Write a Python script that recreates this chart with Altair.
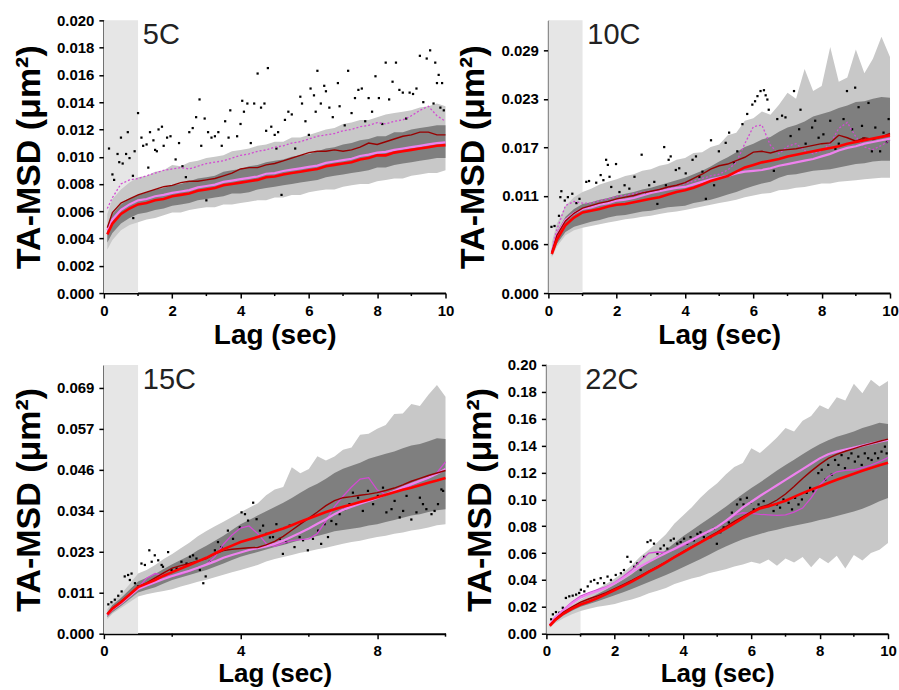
import altair as alt
import pandas as pd

# ---------------- shared lag grid (sec) ----------------
LAG = [0.1, 0.25, 0.5, 0.75, 1.0, 1.25, 1.5, 1.75, 2.0, 2.25, 2.5, 2.75, 3.0, 3.25, 3.5, 3.75,
       4.0, 4.25, 4.5, 4.75, 5.0, 5.25, 5.5, 5.75, 6.0, 6.25, 6.5, 6.75, 7.0, 7.25, 7.5, 7.75,
       8.0, 8.25, 8.5, 8.75, 9.0, 9.25, 9.5, 9.75, 10.0]

# all series values below are in units of 1e-3 um^2
# ---------------- 5C ----------------
light_hi_5C = [5.8, 6.9, 7.6, 8.1, 8.5, 8.6, 8.9, 9.0, 9.4, 9.3, 9.6, 9.7, 9.9, 10.0, 10.1, 10.4, 10.5, 10.6, 10.8, 10.9, 11.1, 11.1, 11.4, 11.4, 11.6, 11.8, 12.0, 12.1, 12.4, 12.5, 12.7, 12.7, 12.9, 13.1, 13.2, 13.3, 13.4, 13.6, 13.7, 13.9, 13.7]
light_lo_5C = [3.2, 3.9, 4.6, 5.0, 5.2, 5.4, 5.5, 5.7, 5.9, 5.9, 6.1, 6.2, 6.3, 6.3, 6.5, 6.5, 6.6, 6.7, 6.8, 6.8, 7.0, 7.0, 7.2, 7.2, 7.4, 7.5, 7.6, 7.6, 7.8, 7.9, 8.0, 8.0, 8.2, 8.3, 8.4, 8.4, 8.6, 8.7, 8.8, 8.8, 9.0]
dark_hi_5C = [4.9, 5.8, 6.5, 6.9, 7.2, 7.4, 7.6, 7.7, 7.9, 8.0, 8.2, 8.4, 8.5, 8.6, 8.9, 9.0, 9.1, 9.3, 9.4, 9.6, 9.7, 9.8, 10.0, 10.1, 10.2, 10.4, 10.6, 10.7, 10.9, 11.0, 11.2, 11.3, 11.5, 11.5, 11.8, 11.8, 12.0, 12.1, 12.2, 12.3, 12.3]
dark_lo_5C = [3.7, 4.4, 5.1, 5.5, 5.8, 5.9, 6.1, 6.2, 6.4, 6.5, 6.6, 6.8, 6.9, 7.0, 7.1, 7.3, 7.3, 7.4, 7.6, 7.7, 7.8, 7.9, 8.0, 8.1, 8.2, 8.3, 8.5, 8.6, 8.7, 8.8, 8.9, 9.0, 9.2, 9.2, 9.4, 9.5, 9.6, 9.7, 9.8, 9.9, 9.9]
red_5C = [4.3, 5.1, 5.8, 6.2, 6.5, 6.6, 6.8, 6.9, 7.1, 7.2, 7.3, 7.5, 7.6, 7.7, 7.9, 8.0, 8.1, 8.2, 8.3, 8.5, 8.55, 8.7, 8.8, 8.9, 9.0, 9.1, 9.3, 9.4, 9.5, 9.6, 9.8, 9.9, 10.1, 10.1, 10.3, 10.4, 10.5, 10.6, 10.7, 10.8, 10.85]
violet_5C = [4.6, 5.4, 6.1, 6.5, 6.8, 6.9, 7.1, 7.2, 7.35, 7.45, 7.55, 7.75, 7.85, 7.95, 8.15, 8.25, 8.35, 8.45, 8.55, 8.75, 8.8, 8.95, 9.05, 9.15, 9.25, 9.35, 9.55, 9.65, 9.75, 9.85, 10.05, 10.15, 10.3, 10.35, 10.5, 10.6, 10.7, 10.8, 10.9, 11.0, 11.05]
darkred_5C = [4.8, 5.9, 6.6, 6.9, 7.2, 7.4, 7.6, 7.8, 7.9, 8.1, 8.2, 8.2, 8.3, 8.4, 8.6, 8.8, 9.1, 9.2, 9.2, 9.4, 9.5, 9.7, 9.9, 10.1, 10.3, 10.4, 10.4, 10.5, 10.4, 10.5, 10.7, 11.0, 10.9, 11.1, 11.3, 11.5, 11.6, 11.8, 11.8, 11.6, 11.6]
magenta_5C = [6.2, 7.0, 8.0, 8.3, 8.4, 8.6, 8.8, 9.0, 9.1, 9.2, 9.1, 9.3, 9.5, 9.6, 9.7, 9.9, 10.1, 10.2, 10.4, 10.5, 10.7, 10.8, 11.0, 11.1, 11.3, 11.5, 11.6, 11.7, 11.9, 12.0, 12.2, 12.3, 12.5, 12.4, 12.6, 12.7, 13.0, 13.4, 13.7, 13.0, 12.6]
dots_5C = [(0.15, 10.6), (0.25, 8.7), (0.3, 8.3), (0.4, 10.2), (0.45, 9.6), (0.5, 11.4), (0.55, 9.5), (0.65, 10.2), (0.7, 11.8), (0.75, 9.9), (0.85, 8.6), (0.86, 5.5), (0.9, 10.4), (1.0, 13.2), (1.1, 11.4), (1.15, 10.8), (1.25, 10.9), (1.3, 9.2), (1.35, 11.8), (1.45, 11.2), (1.5, 10.5), (1.55, 10.4), (1.6, 12.0), (1.7, 12.2), (1.75, 10.8), (1.85, 11.4), (1.95, 11.5), (2.1, 9.8), (2.2, 11.0), (2.3, 9.3), (2.4, 8.5), (2.5, 11.8), (2.6, 12.1), (2.7, 12.9), (2.8, 14.2), (2.85, 10.8), (2.95, 12.8), (3.0, 6.8), (3.05, 11.8), (3.15, 11.4), (3.25, 11.5), (3.35, 11.8), (3.45, 10.8), (3.55, 12.6), (3.65, 11.4), (3.7, 13.4), (3.9, 11.5), (4.0, 12.4), (4.05, 14.1), (4.1, 13.3), (4.2, 13.9), (4.3, 11.0), (4.4, 13.9), (4.5, 16.1), (4.6, 13.6), (4.7, 13.9), (4.75, 11.9), (4.8, 16.5), (4.9, 12.2), (5.0, 11.6), (5.05, 10.6), (5.1, 11.8), (5.2, 7.2), (5.3, 12.7), (5.4, 13.3), (5.5, 13.1), (5.6, 10.6), (5.75, 14.4), (5.8, 13.9), (5.9, 12.6), (6.0, 11.6), (6.05, 15.0), (6.15, 14.5), (6.2, 13.3), (6.25, 16.3), (6.35, 13.9), (6.45, 15.2), (6.5, 14.8), (6.6, 13.6), (6.7, 12.9), (6.85, 15.4), (6.9, 13.7), (7.05, 12.3), (7.15, 16.3), (7.25, 13.2), (7.35, 14.3), (7.45, 14.9), (7.55, 15.0), (7.65, 12.6), (7.75, 14.3), (7.85, 13.3), (7.95, 15.9), (8.05, 14.3), (8.15, 12.4), (8.25, 16.9), (8.35, 14.2), (8.45, 15.5), (8.55, 16.9), (8.65, 14.9), (8.75, 14.7), (8.85, 12.8), (8.95, 14.7), (9.05, 14.6), (9.15, 15.0), (9.25, 17.4), (9.35, 14.0), (9.45, 17.2), (9.55, 17.8), (9.65, 13.9), (9.7, 16.9), (9.75, 15.4), (9.8, 16.0), (9.85, 13.6), (9.9, 15.4), (9.95, 13.4)]

# ---------------- 10C ----------------
light_hi_10C = [6.0, 8.2, 10.3, 11.3, 11.9, 12.3, 12.8, 13.1, 13.4, 13.8, 14.0, 14.4, 14.6, 15.0, 15.2, 15.7, 15.9, 16.5, 16.6, 17.2, 17.5, 18.6, 18.9, 20.3, 20.6, 21.4, 21.0, 22.2, 23.6, 22.9, 26.4, 23.8, 24.4, 29.0, 24.9, 25.4, 28.7, 25.9, 27.6, 30.2, 27.8]
light_lo_10C = [4.2, 5.5, 6.8, 7.4, 7.7, 7.9, 8.1, 8.3, 8.5, 8.7, 8.8, 9.0, 9.1, 9.3, 9.5, 9.6, 9.8, 10.0, 10.2, 10.4, 10.6, 10.8, 11.0, 11.3, 11.5, 11.7, 11.8, 12.1, 12.2, 12.4, 12.5, 12.7, 12.9, 12.9, 13.1, 13.2, 13.3, 13.4, 13.5, 13.6, 13.6]
dark_hi_10C = [5.2, 7.2, 9.0, 9.9, 10.5, 10.7, 11.0, 11.2, 11.5, 11.7, 11.9, 12.2, 12.4, 12.7, 13.0, 13.3, 13.6, 14.0, 14.4, 14.9, 15.5, 16.0, 16.6, 17.2, 17.6, 18.1, 18.4, 19.0, 19.5, 19.8, 20.2, 20.8, 21.1, 21.4, 21.8, 22.1, 22.5, 22.6, 22.9, 23.1, 23.0]
dark_lo_10C = [4.4, 5.8, 7.2, 7.8, 8.1, 8.4, 8.6, 8.9, 9.1, 9.2, 9.4, 9.6, 9.7, 9.9, 10.1, 10.2, 10.3, 10.6, 10.8, 11.0, 11.3, 11.6, 11.9, 12.3, 12.6, 12.9, 13.1, 13.6, 13.9, 14.0, 14.2, 14.4, 14.5, 14.6, 14.8, 15.0, 15.2, 15.3, 15.5, 15.6, 15.6]
red_10C = [4.6, 6.3, 8.0, 8.9, 9.5, 9.7, 9.9, 10.2, 10.4, 10.5, 10.7, 10.9, 11.1, 11.3, 11.6, 11.9, 12.1, 12.4, 12.8, 13.2, 13.5, 13.8, 14.3, 14.8, 15.1, 15.4, 15.6, 15.8, 16.1, 16.3, 16.5, 16.7, 16.9, 17.1, 17.3, 17.6, 17.8, 18.0, 18.2, 18.4, 18.6]
violet_10C = [4.8, 6.9, 8.6, 9.4, 9.9, 10.1, 10.4, 10.6, 10.9, 11.0, 11.2, 11.5, 11.8, 12.0, 12.2, 12.4, 12.5, 12.8, 13.1, 13.4, 13.6, 13.8, 14.1, 14.3, 14.4, 14.5, 14.7, 15.0, 15.2, 15.4, 15.6, 15.8, 16.1, 16.4, 16.8, 17.1, 17.3, 17.6, 17.8, 18.0, 18.2]
darkred_10C = [4.8, 6.8, 8.5, 9.4, 10.0, 10.3, 10.6, 10.8, 11.1, 11.3, 11.5, 11.8, 12.0, 12.2, 12.5, 12.7, 13.0, 13.5, 14.0, 14.6, 15.0, 15.2, 15.6, 16.0, 16.6, 16.7, 16.5, 16.8, 16.9, 17.0, 17.2, 17.4, 17.6, 17.7, 18.6, 18.3, 17.9, 18.3, 18.1, 18.4, 18.8]
magenta_10C = [5.0, 7.5, 10.3, 10.8, 10.6, 10.6, 10.9, 11.1, 11.4, 11.5, 11.7, 11.9, 12.0, 12.2, 12.4, 12.7, 12.9, 13.2, 13.5, 13.8, 14.0, 14.5, 15.4, 17.6, 19.6, 19.8, 17.4, 16.4, 17.3, 17.6, 16.8, 16.4, 16.8, 17.6, 19.4, 20.1, 18.4, 17.2, 16.9, 17.4, 18.0]
dots_10C = [(0.09, 7.8), (0.18, 7.9), (0.31, 9.1), (0.35, 11.3), (0.38, 12.0), (0.48, 10.9), (0.57, 11.3), (0.70, 11.7), (0.82, 10.6), (0.91, 11.1), (1.11, 13.1), (1.19, 13.2), (1.40, 13.0), (1.53, 13.9), (1.61, 13.3), (1.69, 15.7), (1.74, 15.1), (1.79, 13.7), (1.84, 12.5), (1.98, 15.2), (2.08, 11.9), (2.23, 12.7), (2.37, 12.3), (2.52, 13.7), (2.73, 16.3), (2.86, 11.7), (2.95, 12.7), (3.10, 13.1), (3.19, 10.5), (3.39, 17.2), (3.44, 12.7), (3.52, 15.7), (3.58, 16.1), (3.73, 14.5), (3.83, 14.7), (4.02, 14.1), (4.22, 15.7), (4.32, 16.1), (4.42, 13.7), (4.51, 14.3), (4.61, 11.1), (4.76, 18.0), (4.85, 12.7), (4.99, 16.7), (5.19, 17.7), (5.29, 18.9), (5.43, 15.4), (5.53, 16.7), (5.68, 19.9), (5.82, 21.1), (5.97, 22.2), (6.05, 22.6), (6.12, 23.2), (6.21, 23.8), (6.31, 23.9), (6.36, 23.3), (6.41, 22.8), (6.45, 21.6), (6.60, 14.4), (6.70, 20.5), (6.84, 20.9), (6.94, 20.7), (7.09, 18.5), (7.19, 23.8), (7.34, 19.3), (7.38, 21.6), (7.53, 17.6), (7.72, 19.5), (7.81, 20.3), (7.91, 18.3), (8.05, 18.7), (8.25, 20.3), (8.40, 17.0), (8.50, 17.6), (8.64, 20.5), (8.74, 23.8), (8.89, 19.3), (8.98, 24.2), (9.08, 21.9), (9.18, 19.7), (9.22, 18.2), (9.37, 22.4), (9.47, 16.7), (9.57, 19.5), (9.71, 16.7), (9.81, 18.9), (9.91, 17.8), (9.96, 20.5)]

# ---------------- 15C ----------------
light_hi_15C = [6.8, 9.0, 11.0, 13.8, 16.8, 17.8, 19.2, 20.9, 22.3, 23.9, 25.4, 27.2, 28.7, 30.0, 31.3, 32.6, 33.9, 35.2, 36.4, 38.7, 40.3, 41.0, 46.5, 44.8, 46.0, 49.6, 48.4, 49.5, 51.4, 52.0, 55.6, 55.9, 57.3, 58.3, 61.4, 61.5, 64.2, 63.6, 66.8, 69.5, 66.2]
light_lo_15C = [4.0, 5.6, 7.2, 8.8, 10.4, 11.0, 11.5, 11.9, 12.4, 13.2, 13.8, 14.5, 15.1, 15.8, 16.5, 17.2, 17.8, 18.5, 19.2, 20.2, 20.9, 21.4, 22.0, 22.6, 23.0, 23.6, 24.0, 24.6, 25.1, 25.6, 26.0, 26.5, 27.0, 27.4, 27.9, 28.3, 28.8, 29.2, 29.7, 30.3, 30.6]
dark_hi_15C = [6.0, 8.0, 10.0, 12.3, 14.6, 15.6, 16.7, 18.1, 19.4, 20.6, 21.8, 23.3, 24.6, 26.0, 27.4, 29.0, 30.6, 31.8, 33.0, 34.2, 35.4, 36.6, 37.9, 39.4, 40.8, 41.9, 43.3, 44.9, 46.1, 46.9, 47.8, 48.9, 49.6, 50.3, 50.9, 51.8, 52.6, 53.0, 53.8, 54.6, 54.4]
dark_lo_15C = [4.6, 6.0, 7.7, 9.6, 11.5, 12.3, 13.0, 14.0, 15.0, 15.7, 16.4, 17.1, 17.8, 18.7, 19.6, 20.6, 21.5, 22.2, 22.8, 23.5, 24.2, 24.8, 25.5, 26.2, 26.8, 27.3, 27.9, 28.6, 29.0, 29.3, 29.7, 30.2, 30.6, 31.2, 31.8, 32.4, 33.0, 33.4, 34.0, 34.5, 34.8]
red_15C = [5.4, 7.0, 8.8, 10.9, 13.0, 14.0, 15.0, 16.2, 17.2, 18.2, 19.2, 20.2, 21.2, 22.4, 23.6, 24.6, 25.6, 26.3, 27.0, 27.8, 28.6, 29.4, 30.3, 31.3, 32.2, 33.1, 34.0, 34.8, 35.5, 36.1, 36.8, 37.4, 38.1, 38.8, 39.5, 40.2, 40.8, 41.5, 42.2, 42.8, 43.5]
violet_15C = [5.2, 6.8, 8.5, 10.5, 12.5, 13.5, 14.4, 15.3, 16.1, 16.9, 17.6, 18.4, 19.3, 20.2, 21.2, 22.0, 22.7, 23.4, 23.9, 24.4, 25.1, 26.0, 27.1, 28.2, 29.4, 30.7, 32.0, 33.4, 34.6, 35.5, 36.3, 37.1, 37.9, 38.9, 39.9, 40.9, 41.8, 42.7, 43.6, 44.7, 46.0]
darkred_15C = [5.5, 7.2, 9.0, 11.0, 13.1, 14.2, 15.6, 17.0, 18.3, 19.0, 19.6, 20.3, 21.0, 22.3, 23.2, 23.6, 23.8, 24.0, 24.1, 24.8, 25.8, 27.2, 28.9, 30.6, 32.3, 34.0, 35.8, 37.2, 38.0, 38.3, 38.7, 39.0, 39.4, 40.0, 40.7, 41.6, 42.6, 43.4, 44.2, 44.9, 45.6]
magenta_15C = [5.3, 7.0, 8.8, 10.8, 12.8, 15.5, 16.8, 16.2, 16.0, 16.6, 17.4, 18.4, 19.4, 21.5, 25.0, 27.6, 29.5, 30.1, 28.0, 25.2, 24.4, 25.3, 26.0, 26.3, 26.5, 28.0, 31.5, 35.5, 38.4, 41.0, 43.2, 43.6, 40.2, 38.8, 39.6, 40.4, 41.6, 42.6, 43.5, 45.0, 48.0]
dots_15C = [(0.13, 8.2), (0.22, 8.8), (0.32, 9.5), (0.42, 10.6), (0.52, 11.8), (0.61, 16.0), (0.71, 16.4), (0.76, 15.0), (0.81, 16.8), (0.91, 14.1), (1.00, 13.2), (1.10, 19.6), (1.20, 19.2), (1.33, 23.3), (1.40, 20.1), (1.49, 21.9), (1.59, 20.5), (1.69, 19.2), (1.73, 18.7), (1.88, 22.8), (1.98, 17.8), (2.13, 18.2), (2.27, 20.1), (2.42, 19.6), (2.52, 21.5), (2.61, 21.9), (2.71, 21.0), (2.81, 17.8), (2.91, 14.1), (2.98, 16.0), (3.10, 20.1), (3.25, 23.3), (3.34, 25.6), (3.44, 24.2), (3.63, 28.8), (3.78, 26.5), (3.98, 29.7), (4.03, 33.9), (4.13, 33.4), (4.22, 31.6), (4.37, 36.6), (4.47, 32.0), (4.57, 28.8), (4.66, 30.2), (4.76, 27.9), (4.86, 26.9), (4.95, 27.0), (5.05, 30.6), (5.15, 26.5), (5.24, 22.3), (5.34, 25.6), (5.44, 30.2), (5.58, 24.2), (5.73, 27.0), (5.83, 26.1), (5.97, 23.3), (6.12, 26.5), (6.27, 28.8), (6.36, 25.1), (6.46, 30.6), (6.56, 27.0), (6.66, 31.5), (6.80, 30.6), (6.90, 33.4), (7.05, 34.8), (7.19, 36.2), (7.29, 39.4), (7.44, 38.0), (7.58, 34.3), (7.73, 39.9), (7.88, 36.2), (8.02, 38.5), (8.17, 40.8), (8.27, 33.9), (8.42, 34.8), (8.51, 37.1), (8.66, 32.5), (8.76, 34.3), (8.86, 38.5), (9.00, 31.9), (9.15, 33.9), (9.25, 38.0), (9.34, 36.2), (9.44, 34.8), (9.59, 33.4), (9.68, 34.3), (9.78, 36.2), (9.88, 40.3), (9.93, 39.9)]

# ---------------- 22C ----------------
light_hi_22C = [7.5, 12.5, 17.6, 21.5, 25.4, 29.0, 33.5, 37.0, 41.0, 45.5, 51.0, 57.5, 62.5, 68.0, 74.0, 82.0, 88.0, 94.0, 101.0, 107.0, 112.0, 118.5, 124.0, 127.0, 138.0, 134.5, 140.0, 146.0, 153.0, 150.5, 158.5, 162.0, 170.0, 167.0, 176.0, 173.5, 186.0, 179.0, 189.0, 184.0, 188.0]
light_lo_22C = [4.5, 7.8, 11.5, 14.4, 16.8, 18.5, 20.0, 21.0, 22.0, 24.0, 25.5, 27.5, 30.0, 32.0, 34.0, 37.0, 39.0, 41.0, 42.5, 45.0, 46.5, 48.0, 50.0, 51.5, 53.5, 52.0, 55.2, 50.5, 56.0, 53.0, 57.0, 49.5, 56.5, 52.5, 58.0, 48.5, 58.5, 54.5, 60.0, 62.5, 67.5]
dark_hi_22C = [6.6, 11.2, 16.3, 20.0, 23.4, 26.2, 29.5, 32.8, 36.5, 40.2, 44.3, 49.0, 53.5, 57.8, 62.3, 67.5, 72.5, 76.8, 81.2, 85.6, 90.0, 94.5, 99.3, 104.0, 108.5, 112.5, 117.0, 121.5, 125.5, 129.5, 133.5, 137.5, 141.0, 144.0, 146.5, 148.5, 150.5, 153.0, 155.0, 157.0, 156.0]
dark_lo_22C = [5.3, 8.9, 13.6, 17.1, 20.0, 22.0, 24.1, 26.4, 28.6, 30.9, 33.3, 35.8, 38.4, 41.0, 43.6, 46.5, 49.5, 52.4, 55.4, 58.6, 62.0, 64.8, 67.6, 70.2, 72.4, 74.2, 76.0, 77.4, 79.0, 80.4, 81.6, 83.0, 84.6, 86.0, 87.6, 89.2, 91.0, 93.0, 95.5, 98.5, 101.0]
red_22C = [5.9, 10.0, 15.0, 18.6, 21.7, 24.0, 26.6, 29.4, 32.5, 35.6, 38.7, 42.3, 46.0, 49.4, 53.0, 56.9, 60.6, 64.3, 67.8, 71.3, 74.6, 78.2, 82.0, 86.0, 90.0, 93.2, 94.8, 96.8, 99.0, 101.8, 104.6, 107.2, 109.6, 112.2, 114.6, 116.8, 119.0, 121.2, 123.3, 125.3, 127.3]
violet_22C = [6.5, 12.0, 17.5, 22.5, 26.8, 29.5, 31.8, 34.2, 37.5, 41.5, 45.8, 50.0, 53.5, 56.8, 60.0, 63.2, 66.5, 69.8, 73.0, 76.2, 79.5, 84.0, 88.8, 94.0, 98.2, 102.5, 106.5, 110.5, 114.5, 118.5, 122.5, 126.5, 130.5, 133.5, 135.5, 137.0, 138.5, 140.0, 141.5, 143.0, 144.2]
darkred_22C = [6.2, 10.8, 16.0, 20.0, 23.5, 26.0, 28.2, 30.5, 33.5, 36.5, 39.6, 43.0, 46.5, 50.0, 53.5, 57.2, 61.0, 64.6, 68.2, 72.0, 75.6, 79.6, 83.6, 87.2, 90.8, 94.0, 96.0, 99.5, 104.0, 109.5, 115.5, 121.0, 126.0, 130.5, 133.5, 135.8, 137.8, 139.8, 141.5, 143.2, 144.8]
magenta_22C = [6.8, 12.2, 18.0, 23.5, 28.0, 30.5, 32.8, 34.8, 38.0, 42.5, 47.5, 54.0, 60.0, 60.8, 60.5, 62.5, 65.5, 69.0, 72.5, 76.0, 79.5, 83.5, 88.0, 90.0, 89.5, 88.8, 88.5, 88.0, 88.5, 90.5, 93.5, 101.0, 110.5, 117.0, 120.5, 121.5, 122.0, 123.5, 125.5, 128.0, 131.0]
dots_22C = [(0.14, 10.7), (0.19, 14.4), (0.28, 16.1), (0.38, 15.6), (0.48, 19.3), (0.57, 26.6), (0.67, 27.8), (0.77, 28.3), (0.87, 29.1), (0.96, 30.3), (1.01, 32.7), (1.11, 31.5), (1.21, 35.2), (1.30, 38.8), (1.40, 40.0), (1.50, 37.6), (1.59, 41.3), (1.69, 37.6), (1.79, 42.5), (1.89, 40.0), (2.03, 43.7), (2.18, 45.0), (2.27, 47.4), (2.37, 57.2), (2.47, 53.5), (2.57, 49.8), (2.66, 52.3), (2.76, 47.4), (2.86, 57.2), (2.96, 68.2), (3.05, 69.4), (3.15, 67.0), (3.25, 59.6), (3.34, 63.3), (3.44, 65.7), (3.54, 63.3), (3.64, 69.4), (3.73, 70.7), (3.83, 67.0), (3.93, 68.2), (4.03, 70.7), (4.12, 67.0), (4.22, 71.9), (4.32, 69.4), (4.42, 74.3), (4.51, 75.5), (4.61, 71.9), (4.71, 75.5), (4.80, 71.9), (4.90, 78.0), (4.99, 66.9), (5.09, 75.5), (5.19, 79.1), (5.34, 82.8), (5.43, 90.1), (5.58, 96.2), (5.68, 99.9), (5.77, 96.2), (5.87, 101.1), (5.97, 97.4), (6.07, 92.5), (6.21, 96.2), (6.36, 98.7), (6.50, 95.0), (6.65, 91.3), (6.75, 96.2), (6.84, 93.8), (6.94, 99.9), (7.09, 97.4), (7.19, 92.5), (7.28, 101.1), (7.38, 96.2), (7.48, 99.9), (7.62, 104.8), (7.72, 108.5), (7.81, 106.0), (7.96, 119.5), (8.06, 122.0), (8.16, 114.6), (8.25, 125.6), (8.35, 118.3), (8.45, 129.3), (8.55, 125.6), (8.64, 132.9), (8.74, 123.2), (8.84, 130.6), (8.93, 134.2), (9.03, 128.1), (9.13, 131.8), (9.23, 125.6), (9.32, 134.2), (9.42, 130.6), (9.52, 129.3), (9.62, 134.2), (9.71, 130.6), (9.81, 135.5), (9.91, 139.2), (9.96, 134.2)]

# ---------------- axis settings ----------------
YTICKS_5C = [0.0, 0.002, 0.004, 0.006, 0.008, 0.010, 0.012, 0.014, 0.016, 0.018, 0.020]
YTICKS_10C = [0.0, 0.00572, 0.01144, 0.01716, 0.02288, 0.0286]
YTICKS_15C = [0.0, 0.01146, 0.02292, 0.03438, 0.04584, 0.0573, 0.06876]
YTICKS_22C = [0.0, 0.02, 0.04, 0.06, 0.08, 0.10, 0.12, 0.14, 0.16, 0.18, 0.20]
XMAJOR_EVEN = [0, 2, 4, 6, 8, 10]
XMINOR_ODD = [1, 3, 5, 7, 9]
XMAJOR_15C = [0, 4, 8]
XMINOR_15C = [2, 6, 10]

W = 342
H_TOP, H_BOTTOM = 273, 269
FONT = "Liberation Sans"
UNIT = 1e-3


def panel(name, lo1, hi1, lo2, hi2, red, violet, darkred, magenta, dots,
          ymax, yticks, yfmt, xmajor, xminor, mag_dash, bottom_row):
    H = H_BOTTOM if bottom_row else H_TOP
    df = pd.DataFrame({
        "lag": LAG,
        "lo1": [v * UNIT for v in lo1], "hi1": [v * UNIT for v in hi1],
        "lo2": [v * UNIT for v in lo2], "hi2": [v * UNIT for v in hi2],
        "red": [v * UNIT for v in red], "violet": [v * UNIT for v in violet],
        "darkred": [v * UNIT for v in darkred], "magenta": [v * UNIT for v in magenta],
    })
    dd = pd.DataFrame({"lag": [p[0] for p in dots], "v": [p[1] * UNIT for p in dots]})
    xs = alt.Scale(domain=[0, 10], nice=False, zero=False)
    ys = alt.Scale(domain=[0, ymax], nice=False, zero=True)
    xaxis = alt.Axis(values=xmajor, format="d", title="Lag (sec)", grid=False,
                     domainColor="black", domainWidth=2, tickColor="black", tickWidth=1.5,
                     tickSize=5, labelFont=FONT, labelFontSize=15, labelFontWeight="bold",
                     labelColor="black", labelPadding=5, labelFlush=False,
                     titleFont=FONT, titleFontSize=26 if bottom_row else 28,
                     titleFontWeight="bold", titleColor="black",
                     titlePadding=2 if bottom_row else 3)
    yaxis = alt.Axis(values=yticks, format=yfmt, title="TA-MSD (\u03bcm\u00b2)", grid=False,
                     domainColor="black", domainWidth=2, tickColor="black", tickWidth=1.5,
                     tickSize=5, labelFont=FONT, labelFontSize=15, labelFontWeight="bold",
                     labelColor="black", labelPadding=5, labelFlush=False,
                     titleFont=FONT, titleFontSize=34, titleFontWeight="bold",
                     titleColor="black", titlePadding=10)

    def X(field):
        return alt.X(field, scale=xs, axis=xaxis)

    def Y(field):
        return alt.Y(field, scale=ys, axis=yaxis)

    shade = alt.Chart(pd.DataFrame({"a": [0], "b": [1]})).mark_rect(color="#e6e6e6").encode(
        x=X("a:Q"), x2="b:Q", y=alt.value(0), y2=alt.value(H))
    band1 = alt.Chart(df).mark_area(color="#c8c8c8", opacity=1).encode(
        x=X("lag:Q"), y=Y("lo1:Q"), y2="hi1:Q")
    band2 = alt.Chart(df).mark_area(color="#7f7f7f", opacity=1).encode(
        x=X("lag:Q"), y=Y("lo2:Q"), y2="hi2:Q")
    pts = alt.Chart(dd).mark_square(size=5, color="black", opacity=1).encode(
        x=X("lag:Q"), y=Y("v:Q"))

    def line(field, color, width, dash=None):
        kw = dict(color=color, strokeWidth=width)
        if dash:
            kw["strokeDash"] = dash
        return alt.Chart(df).mark_line(**kw).encode(x=X("lag:Q"), y=Y(field + ":Q"))

    mag = line("magenta", "#d24bd2", 1.3, [2, 2] if mag_dash else None)
    vio = line("violet", "#ee82ee", 2.2)
    drd = line("darkred", "#990000", 1.4)
    rd = line("red", "#ff0000", 2.6)

    minor = alt.Chart(pd.DataFrame({"t": xminor})).mark_rule(color="black", strokeWidth=1.5).encode(
        x=X("t:Q"), y=alt.value(H), y2=alt.value(H + 3))
    lab = alt.Chart(pd.DataFrame({"n": [name]})).mark_text(
        align="left", baseline="alphabetic", font=FONT, fontSize=29, color="#222222").encode(
        x=alt.value(39), y=alt.value(24), text="n:N")

    return alt.layer(shade, band1, band2, pts, mag, vio, drd, rd, minor, lab).properties(
        width=W, height=H)


p1 = panel("5C", light_lo_5C, light_hi_5C, dark_lo_5C, dark_hi_5C, red_5C, violet_5C,
           darkred_5C, magenta_5C, dots_5C, 0.020, YTICKS_5C, ".3f", XMAJOR_EVEN, XMINOR_ODD, True, False)
p2 = panel("10C", light_lo_10C, light_hi_10C, dark_lo_10C, dark_hi_10C, red_10C, violet_10C,
           darkred_10C, magenta_10C, dots_10C, 0.03213, YTICKS_10C, ".3f", XMAJOR_EVEN, XMINOR_ODD, True, False)
p3 = panel("15C", light_lo_15C, light_hi_15C, dark_lo_15C, dark_hi_15C, red_15C, violet_15C,
           darkred_15C, magenta_15C, dots_15C, 0.07509, YTICKS_15C, ".3f", XMAJOR_15C, XMINOR_15C, False, True)
p4 = panel("22C", light_lo_22C, light_hi_22C, dark_lo_22C, dark_hi_22C, red_22C, violet_22C,
           darkred_22C, magenta_22C, dots_22C, 0.20, YTICKS_22C, ".2f", XMAJOR_EVEN, XMINOR_ODD, False, True)

row1 = alt.hconcat(p1, p2, spacing=2)
row2 = alt.hconcat(p3, p4, spacing=11)
chart = alt.vconcat(row1, row2, spacing=9).properties(
    padding={"left": 12, "top": 13, "right": 0, "bottom": 0},
    background="white",
).configure_view(stroke=None)

chart.save("out.html", embed_options={"renderer": "svg", "actions": False})
